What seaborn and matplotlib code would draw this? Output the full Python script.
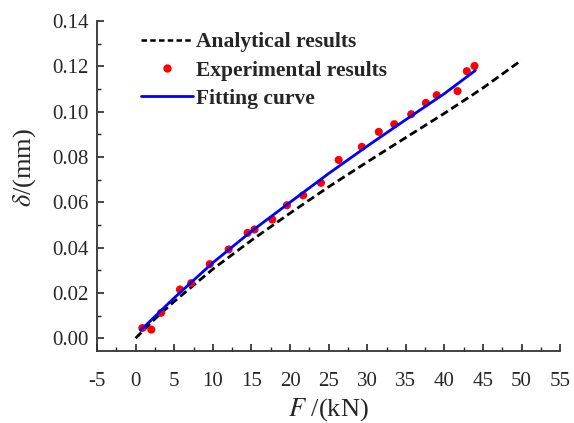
import numpy as np
import pandas as pd
import seaborn as sns
import matplotlib
matplotlib.use("Agg")
import matplotlib.pyplot as plt
from matplotlib.lines import Line2D
from matplotlib.ticker import MultipleLocator

# Data
analytical_F = [0, 2.5, 5, 10, 15, 20, 25, 30, 35, 40, 45, 50]
analytical_d = [0, 0.0085, 0.0162, 0.0305, 0.0432, 0.0552, 0.0668, 0.0778, 0.0886, 0.0993, 0.1105, 0.1228]

exp_F = [0.87, 2.03, 3.3, 5.74, 7.2, 9.6, 12.05, 14.5, 15.4, 17.7, 19.6, 21.7, 24.0,
         26.3, 29.3, 31.5, 33.5, 35.7, 37.6, 39.0, 41.7, 42.9, 43.9]
exp_d = [0.0045, 0.0038, 0.0112, 0.0215, 0.0243, 0.0327, 0.0392, 0.0465, 0.0480, 0.0524,
         0.0587, 0.0631, 0.0686, 0.0787, 0.0845, 0.0911, 0.0945, 0.0989, 0.1039, 0.1073,
         0.1091, 0.1179, 0.1202]

fit_F = [0.65, 5, 10, 15, 20, 25, 30, 35, 40, 44]
fit_d = [0.0035, 0.0178, 0.0333, 0.0472, 0.0600, 0.0727, 0.0848, 0.0965, 0.1080, 0.1182]

labels = ["Analytical results", "Experimental results", "Fitting curve"]

sns.set_style("ticks")
plt.rcParams['font.family'] = ['Liberation Serif', 'DejaVu Serif']
plt.rcParams['mathtext.fontset'] = 'stix'

fig = plt.figure(figsize=(5.74, 4.23), dpi=100)
ax = fig.add_axes([0.169, 0.170, 0.807, 0.780])

df_a = pd.DataFrame({"F": analytical_F, "d": analytical_d})
df_e = pd.DataFrame({"F": exp_F, "d": exp_d})
df_f = pd.DataFrame({"F": fit_F, "d": fit_d})

sns.lineplot(data=df_a, x="F", y="d", ax=ax, color="black", linewidth=2.0,
             linestyle=(0, (2.9, 1.5)), sort=False, legend=False, zorder=2)
sns.lineplot(data=df_f, x="F", y="d", ax=ax, color="blue", linewidth=2.0,
             sort=False, legend=False, zorder=4)
sns.scatterplot(data=df_e, x="F", y="d", ax=ax, color="red", s=34, edgecolor="none",
                legend=False, zorder=3)

ax.set_xlim(-5, 55)
ax.set_ylim(-0.0057, 0.14)
ax.xaxis.set_minor_locator(MultipleLocator(2.5))
ax.yaxis.set_minor_locator(MultipleLocator(0.01))
ax.set_yticks(np.arange(0, 0.141, 0.02))
ax.set_yticklabels([f"{v:.2f}" for v in np.arange(0, 0.141, 0.02)])
ax.set_xticks(np.arange(-5, 56, 5))
ax.set_xticklabels([str(v) for v in range(-5, 56, 5)])

ax.tick_params(which='major', direction='in', length=5, width=1.2, labelsize=15)
ax.tick_params(axis='y', which='major', pad=6)
ax.tick_params(axis='x', which='major', pad=15)
ax.tick_params(which='minor', direction='in', length=3, width=1.0)
for s in ['top', 'right']:
    ax.spines[s].set_visible(False)
for s in ['left', 'bottom']:
    ax.spines[s].set_linewidth(1.3)
    ax.spines[s].set_color('#333333')

ax.set_xlabel(r"$F$ /(kN)", fontsize=19, labelpad=4)
ax.set_ylabel(r"$\delta$/(mm)", fontsize=19)
ax.yaxis.set_label_coords(-0.128, 0.555)

handles = [
    Line2D([], [], color="black", linewidth=1.8, linestyle=(0, (2.2, 1.3))),
    Line2D([], [], color="red", marker="o", markersize=6, linestyle="none", markeredgewidth=0),
    Line2D([], [], color="blue", linewidth=2.0),
]
ax.legend(handles, labels, loc="upper left", bbox_to_anchor=(0.068, 1.005), frameon=False,
          prop={'family': 'Liberation Serif', 'weight': 'bold', 'size': 15.5},
          handlelength=2.4, handletextpad=0.15, labelspacing=0.38, borderaxespad=0.2)

fig.savefig("out.png", dpi=100)
